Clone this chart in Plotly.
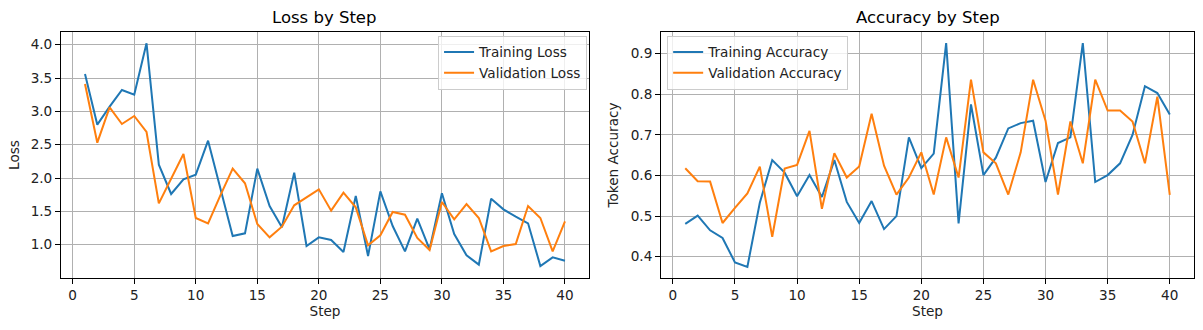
import plotly.graph_objects as go

steps = list(range(1, 41))
train_loss = [3.56, 2.80, 3.07, 3.32, 3.25, 4.02, 2.20, 1.76, 1.98, 2.05,
              2.56, 1.85, 1.13, 1.17, 2.14, 1.58, 1.26, 2.08, 0.98, 1.11,
              1.07, 0.89, 1.73, 0.83, 1.80, 1.28, 0.90, 1.39, 0.93, 1.77,
              1.16, 0.84, 0.70, 1.69, 1.53, 1.42, 1.32, 0.68, 0.81, 0.76]
val_loss = [3.41, 2.53, 3.06, 2.81, 2.93, 2.69, 1.62, 2.00, 2.36, 1.40,
            1.32, 1.74, 2.14, 1.92, 1.31, 1.11, 1.27, 1.59, 1.71, 1.83,
            1.51, 1.78, 1.56, 0.99, 1.14, 1.49, 1.45, 1.10, 0.92, 1.64,
            1.38, 1.61, 1.40, 0.90, 0.98, 1.01, 1.58, 1.40, 0.90, 1.35]
train_acc = [0.481, 0.501, 0.465, 0.446, 0.386, 0.375, 0.533, 0.638, 0.607, 0.549,
             0.601, 0.547, 0.638, 0.535, 0.483, 0.537, 0.468, 0.500, 0.694, 0.618,
             0.654, 0.926, 0.482, 0.775, 0.601, 0.644, 0.716, 0.729, 0.735, 0.584,
             0.680, 0.694, 0.926, 0.584, 0.601, 0.630, 0.700, 0.820, 0.803, 0.750]
val_acc = [0.618, 0.586, 0.585, 0.483, 0.520, 0.556, 0.622, 0.449, 0.617, 0.626,
           0.710, 0.518, 0.655, 0.595, 0.622, 0.752, 0.624, 0.553, 0.595, 0.657,
           0.553, 0.694, 0.595, 0.836, 0.657, 0.630, 0.553, 0.657, 0.836, 0.735,
           0.553, 0.733, 0.630, 0.836, 0.760, 0.760, 0.733, 0.630, 0.794, 0.552]

BLUE = "#1f77b4"
ORANGE = "#ff7f0e"
FONT = "DejaVu Sans"
FS = 13.6

fig = go.Figure()
fig.add_trace(go.Scatter(x=steps, y=train_loss, mode="lines", name="Training Loss",
                         line=dict(color=BLUE, width=2), xaxis="x", yaxis="y", legend="legend"))
fig.add_trace(go.Scatter(x=steps, y=val_loss, mode="lines", name="Validation Loss",
                         line=dict(color=ORANGE, width=2), xaxis="x", yaxis="y", legend="legend"))
fig.add_trace(go.Scatter(x=steps, y=train_acc, mode="lines", name="Training Accuracy",
                         line=dict(color=BLUE, width=2), xaxis="x2", yaxis="y2", legend="legend2"))
fig.add_trace(go.Scatter(x=steps, y=val_acc, mode="lines", name="Validation Accuracy",
                         line=dict(color=ORANGE, width=2), xaxis="x2", yaxis="y2", legend="legend2"))

axis_common = dict(showline=True, linecolor="black", linewidth=1, mirror=True,
                   ticks="outside", ticklen=5, tickwidth=1, tickcolor="black",
                   showgrid=True, gridcolor="#b0b0b0", gridwidth=1, zeroline=False,
                   tickfont=dict(family=FONT, size=FS, color="#222222"))

fig.update_layout(
    width=1203, height=330,
    margin=dict(l=61, r=9, t=32, b=52),
    paper_bgcolor="white", plot_bgcolor="white",
    font=dict(family=FONT, size=FS, color="#222222"),
    xaxis=dict(domain=[0, 0.466], range=[-0.95, 41.95], tickvals=[0, 5, 10, 15, 20, 25, 30, 35, 40],
               title=dict(text="Step", standoff=3, font=dict(size=FS)), anchor="y", **axis_common),
    yaxis=dict(range=[0.5, 4.19], tickvals=[1.0, 1.5, 2.0, 2.5, 3.0, 3.5, 4.0], tickformat=".1f",
               title=dict(text="Loss", standoff=7, font=dict(size=FS)), anchor="x", **axis_common),
    xaxis2=dict(domain=[0.5296, 1.0], range=[-0.95, 41.95], tickvals=[0, 5, 10, 15, 20, 25, 30, 35, 40],
                title=dict(text="Step", standoff=3, font=dict(size=FS)), anchor="y2", **axis_common),
    yaxis2=dict(range=[0.3475, 0.9535], tickvals=[0.4, 0.5, 0.6, 0.7, 0.8, 0.9], tickformat=".1f",
                title=dict(text="Token Accuracy", standoff=8, font=dict(size=FS)), anchor="x2", **axis_common),
    legend=dict(x=0.4643, y=0.985, xanchor="right", yanchor="top", xref="paper", yref="paper",
                bgcolor="rgba(255,255,255,0.8)", bordercolor="#cccccc", borderwidth=1,
                font=dict(family=FONT, size=FS), tracegroupgap=0, itemwidth=30),
    legend2=dict(x=0.535, y=0.985, xanchor="left", yanchor="top", xref="paper", yref="paper",
                 bgcolor="rgba(255,255,255,0.8)", bordercolor="#cccccc", borderwidth=1,
                 font=dict(family=FONT, size=FS), tracegroupgap=0, itemwidth=30),
    annotations=[
        dict(text="Loss by Step", x=0.233, y=1, xref="paper", yref="paper", xanchor="center",
             yanchor="bottom", yshift=3, showarrow=False, font=dict(family=FONT, size=16.5, color="black")),
        dict(text="Accuracy by Step", x=0.7648, y=1, xref="paper", yref="paper", xanchor="center",
             yanchor="bottom", yshift=3, showarrow=False, font=dict(family=FONT, size=16.5, color="black")),
    ],
)

fig.write_html("out.html")
